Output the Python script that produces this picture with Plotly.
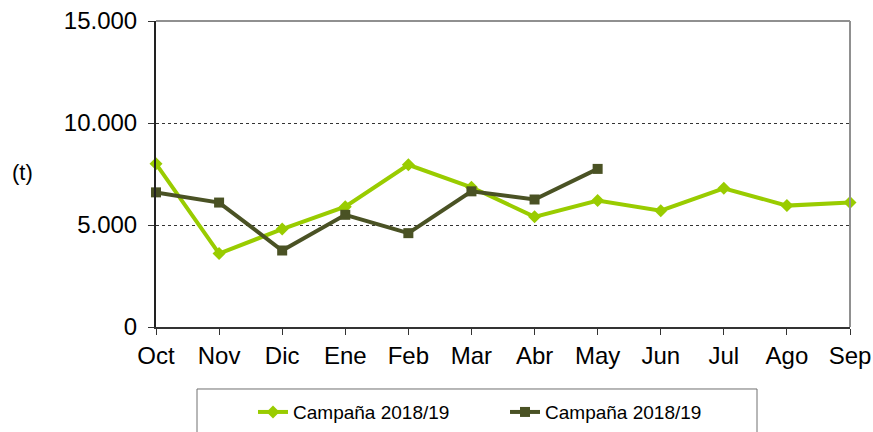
import plotly.graph_objects as go

months = ["Oct", "Nov", "Dic", "Ene", "Feb", "Mar", "Abr", "May", "Jun", "Jul", "Ago", "Sep"]
serie_a_name = "Campaña 2018/19"
serie_a = [8000, 3600, 4800, 5900, 7950, 6850, 5400, 6200, 5700, 6800, 5950, 6100]
serie_b_name = "Campaña 2018/19"
serie_b = [6600, 6100, 3750, 5500, 4600, 6650, 6250, 7750]
y_ticks = [0, 5000, 10000, 15000]
y_tick_labels = ["0", "5.000", "10.000", "15.000"]

light = "#99CC00"
dark = "#4A5224"

fig = go.Figure()
fig.add_trace(go.Scatter(
    x=months, y=serie_a, name=serie_a_name, mode="lines+markers",
    line=dict(color=light, width=4),
    marker=dict(symbol="diamond", size=10, color=light),
    cliponaxis=False,
))
fig.add_trace(go.Scatter(
    x=months[:len(serie_b)], y=serie_b, name=serie_b_name, mode="lines+markers",
    line=dict(color=dark, width=4),
    marker=dict(symbol="square", size=10, color=dark),
    cliponaxis=False,
))

fig.update_layout(
    width=873, height=432,
    margin=dict(l=156, r=23, t=21, b=105, autoexpand=False),
    paper_bgcolor="white", plot_bgcolor="rgba(0,0,0,0)",
    font=dict(family="Liberation Sans, Arial, sans-serif", color="black"),
    showlegend=True,
    legend=dict(
        orientation="h", x=0.1398, xanchor="left", y=-0.216, yanchor="top",
        borderwidth=0, bgcolor="rgba(0,0,0,0)",
        font=dict(size=19), entrywidth=207,
    ),
    shapes=[
        dict(type="line", xref="paper", yref="paper", x0=0, x1=1, y0=1, y1=1,
             line=dict(color="#909090", width=2), layer="above"),
        dict(type="line", xref="paper", yref="paper", x0=1, x1=1, y0=0, y1=1,
             line=dict(color="#909090", width=2), layer="above"),
        dict(type="rect", xref="paper", yref="paper", x0=0.0591, x1=0.866,
             y0=-0.40, y1=-0.2026, line=dict(color="#707070", width=1),
             layer="below"),
    ],
    annotations=[dict(text="(t)", xref="paper", yref="paper", x=-0.193, y=0.505,
                      xanchor="center", yanchor="middle", showarrow=False,
                      font=dict(size=22))],
)
fig.update_xaxes(
    type="category", range=[0, 11], showgrid=False, automargin=False,
    showline=True, linecolor="#333333", linewidth=2,
    ticks="outside", ticklen=6, tickcolor="#333333", tickwidth=1,
    ticklabeloverflow="allow",
    tickfont=dict(size=24), fixedrange=True,
)
fig.update_yaxes(
    range=[0, 15000], tickvals=y_ticks, ticktext=y_tick_labels, automargin=False,
    showgrid=True, gridcolor="#333333", gridwidth=1, griddash="dot",
    showline=True, linecolor="#222222", linewidth=2,
    ticks="outside", ticklen=6, tickcolor="#333333", tickwidth=1,
    ticklabelstandoff=6, ticklabeloverflow="allow",
    tickfont=dict(size=24), zeroline=False, fixedrange=True,
)

fig.write_html(
    "out.html",
    config={"displayModeBar": False},
    post_script="document.body.style.margin='0';document.documentElement.style.overflow='hidden';document.body.style.overflow='hidden';",
)
